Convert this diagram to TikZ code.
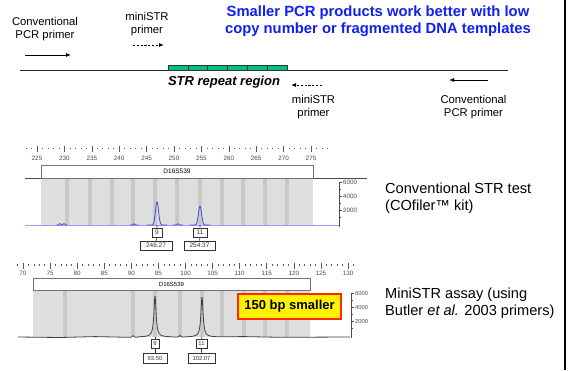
\documentclass[tikz,border=0pt]{standalone}
\usepackage{fontspec}
\setmainfont{Liberation Sans}
\usetikzlibrary{arrows.meta}
\definecolor{repgreen}{HTML}{00C08A}
\definecolor{titleblue}{HTML}{1020F0}
\definecolor{panelgray}{HTML}{DEDEDE}
\definecolor{bingray}{HTML}{C8C8C8}
\definecolor{traceblue}{HTML}{4848E0}
\definecolor{baseblue}{HTML}{9A9AF2}
\definecolor{boxred}{HTML}{FF2A00}
\begin{document}
\begin{tikzpicture}[x=1pt,y=-1pt,
  lbl/.style={font=\fontsize{11.3}{13}\selectfont, align=center, inner sep=0pt},
  side/.style={font=\fontsize{14.6}{17}\selectfont, align=left, inner sep=0pt, anchor=west},
  primer/.style={-{Latex[length=5pt,width=4pt]}, line width=0.9pt},
  miniprimer/.style={-{Latex[length=5pt,width=4pt]}, line width=0.8pt, dash pattern=on 2.2pt off 1.6pt},
  ticklbl/.style={font=\fontsize{6.3}{7}\selectfont, text=black!70, inner sep=0pt},
  locus/.style={draw=black!55, fill=white, line width=0.6pt},
  allele/.style={draw=black!80, fill=white, line width=0.6pt, inner sep=0pt, font=\fontsize{6.5}{7}\selectfont, text=black!80},
  bin/.style={fill=bingray},
]
\useasboundingbox (0,0) rectangle (570,370);
\fill[white] (0,0) rectangle (570,370);

% frame edge on the right
\draw[line width=2pt] (565,0) -- (565,370);

% ---------------- primer diagram ----------------
\node[font=\fontsize{14.8}{17}\selectfont\bfseries, text=titleblue, align=center, inner sep=0pt] (title) at (378,21)
  {Smaller PCR products work better with low\\copy number or fragmented DNA templates};

\coordinate (dnaL) at (20,70);
\coordinate (dnaR) at (508,70);
\draw[line width=0.9pt, black!85] (dnaL) -- (dnaR);

% repeat units
\foreach \i in {0,...,5}
  \draw[fill=repgreen, draw=black!80, line width=0.6pt] ({168+\i*19.83},65) rectangle ({168+(\i+1)*19.83},70);
\node[font=\fontsize{13}{15}\selectfont\bfseries\itshape, inner sep=0pt] (repeat) at (224,82) {STR repeat region};

% forward primers
\node[lbl] (convF) at (45,29) {Conventional\\PCR primer};
\coordinate (cfa) at (25,55); \coordinate (cfb) at (71,55);
\draw[primer] (cfa) -- (cfb);
\node[lbl] (miniF) at (147,24) {miniSTR\\primer};
\coordinate (mfa) at (133,45); \coordinate (mfb) at (164,45);
\draw[miniprimer] (mfa) -- (mfb);

% reverse primers
\node[lbl] (miniR) at (313.5,107) {miniSTR\\primer};
\coordinate (mra) at (322,85); \coordinate (mrb) at (291,85);
\draw[miniprimer] (mra) -- (mrb);
\node[lbl] (convR) at (473.5,107) {Conventional\\PCR primer};
\coordinate (cra) at (488,80); \coordinate (crb) at (449,80);
\draw[primer] (cra) -- (crb);

% ---------------- conventional electropherogram ----------------
% size ruler (225-275 bp)
\foreach \b in {223,...,278}
  \draw[black!65, line width=0.6pt] ({37+(\b-225)*5.48},147.5) -- ++(0,1.6);
\foreach \b in {225,230,...,275}{
  \draw[black!65, line width=0.6pt] ({37+(\b-225)*5.48},146) -- ++(0,6);
  \node[ticklbl] at ({37+(\b-225)*5.48},158) {\b};
}
% bin panel
\fill[panelgray] (41,178) rectangle (313,225);
\foreach \x in {67,90,112,133,155,177,200,222,243,265,287}
  \fill[bin] (\x-1.8,178) rectangle (\x+1.8,225);
\draw[black!70, line width=1pt] (25,178) -- (367,178);
\node[locus, minimum width=272pt, minimum height=13pt, inner sep=0pt, font=\fontsize{6.5}{7}\selectfont] (loc1) at (177,171.5) {D16S539};

% trace
\draw[baseblue, line width=0.8pt] (25,225) -- (340,225);
\draw[traceblue, line width=0.8pt, line join=round]
  (57,225) -- plot[domain=57:67, samples=30] (\x,{225-1.4*exp(-((\x-60)/1.2)^2)-1.4*exp(-((\x-64)/1.2)^2)}) -- (67,225)
  (130,225) -- plot[domain=130:138, samples=20] (\x,{225-1.2*exp(-((\x-134)/1)^2)}) -- (138,225)
  (147,225) -- plot[domain=147:167, samples=60] (\x,{225-23*exp(-((\x-157)/2.2)^2)}) -- (167,225)
  (173,225) -- plot[domain=173:183, samples=20] (\x,{225-1.2*exp(-((\x-178)/1.3)^2)}) -- (183,225)
  (190,225) -- plot[domain=190:210, samples=60] (\x,{225-19*exp(-((\x-200)/2.2)^2)}) -- (210,225);

% intensity axis
\draw[black!70, line width=0.6pt] (339,182) -- (339,227);
\foreach \y/\v in {182/6000,196/4000,210/2000}{
  \draw[black!70, line width=0.6pt] (339,\y) -- ++(3,0);
  \node[ticklbl, anchor=west] at (343,\y) {\v};
}
\foreach \y in {189,203,217}
  \draw[black!70, line width=0.6pt] (339,\y) -- ++(1.6,0);

% allele calls
\node[allele, minimum width=10pt, minimum height=9pt] (c9) at (157,232.5) {9};
\node[allele, minimum width=32pt, minimum height=9pt] (c9s) at (156,245.5) {246.27};
\node[allele, minimum width=14pt, minimum height=9pt] (c11) at (200,232.5) {11};
\node[allele, minimum width=31pt, minimum height=9pt] (c11s) at (199.5,245.5) {254.37};
\coordinate (p9) at (157,225); \coordinate (p11) at (200,225);
\draw[black!80, line width=0.6pt] (p9) -- (c9.north) (c9.south) -- (c9s.north);
\draw[black!80, line width=0.6pt] (p11) -- (c11.north) (c11.south) -- (c11s.north);

\node[side] (conv) at (385,198.5) {Conventional STR test\\(COfiler™ kit)};

% ---------------- miniSTR electropherogram ----------------
\foreach \b in {69,...,131}
  \draw[black!65, line width=0.6pt] ({23+(\b-70)*5.417},264) -- ++(0,1.6);
\foreach \b in {70,75,...,130}{
  \draw[black!65, line width=0.6pt] ({23+(\b-70)*5.417},262.5) -- ++(0,6);
  \node[ticklbl] at ({23+(\b-70)*5.417},273.5) {\b};
}
\fill[panelgray] (33,290) rectangle (310,337);
\foreach \x in {65,133,155,180,202,222,244,265,287}
  \fill[bin] (\x-1.8,290) rectangle (\x+1.8,337);
\node[locus, minimum width=277pt, minimum height=12pt, inner sep=0pt, font=\fontsize{6}{7}\selectfont] (loc2) at (171.5,284) {D16S539};

\draw[black!75, line width=0.8pt, line join=round]
  (18,337) -- (60,337.5) -- (95,336.6) -- (128,337.3)
  -- plot[domain=128:138, samples=20] (\x,{337.2-1.6*exp(-((\x-133)/1.2)^2)})
  -- plot[domain=138:172, samples=120] (\x,{337-41/(1+((\x-155)/1.3)^2)})
  -- plot[domain=172:185, samples=20] (\x,{337-1.5*exp(-((\x-180)/1.2)^2)})
  -- plot[domain=185:219, samples=120] (\x,{337-40/(1+((\x-202)/1.3)^2)})
  -- (245,336.6) -- (280,337.3) -- (350,337);

\draw[black!70, line width=0.6pt] (351,293) -- (351,338);
\foreach \y/\v in {293/6000,307/4000,321/2000}{
  \draw[black!70, line width=0.6pt] (351,\y) -- ++(3,0);
  \node[ticklbl, anchor=west, font=\fontsize{5.8}{7}\selectfont] at (355,\y) {\v};
}
\foreach \y in {300,314,328}
  \draw[black!70, line width=0.6pt] (351,\y) -- ++(1.6,0);

\node[allele, minimum width=8pt, minimum height=9pt, font=\fontsize{5.8}{7}\selectfont] (m9) at (155,343.5) {9};
\node[allele, minimum width=24pt, minimum height=10pt, font=\fontsize{5.8}{7}\selectfont] (m9s) at (155,358) {93.50};
\node[allele, minimum width=11pt, minimum height=9pt, font=\fontsize{5.8}{7}\selectfont] (m11) at (201.5,343.5) {11};
\node[allele, minimum width=27pt, minimum height=10pt, font=\fontsize{5.8}{7}\selectfont] (m11s) at (201.5,358) {102.07};
\coordinate (q9) at (155,337); \coordinate (q11) at (202,337);
\draw[black!80, line width=0.6pt] (q9) -- (m9.north) (m9.south) -- (m9s.north);
\draw[black!80, line width=0.6pt] (q11) -- (m11.north) (m11.south) -- (m11s.north);

% size difference callout
\node[draw=boxred, fill=yellow, line width=2.2pt, minimum width=103pt, minimum height=25pt, inner sep=0pt,
      font=\fontsize{13}{15}\selectfont\bfseries] (diff) at (289.5,306.5) {150 bp smaller};

\node[side] (mini) at (385,303.5) {MiniSTR assay (using\\Butler \textit{et al.} 2003 primers)};
\end{tikzpicture}
\end{document}
